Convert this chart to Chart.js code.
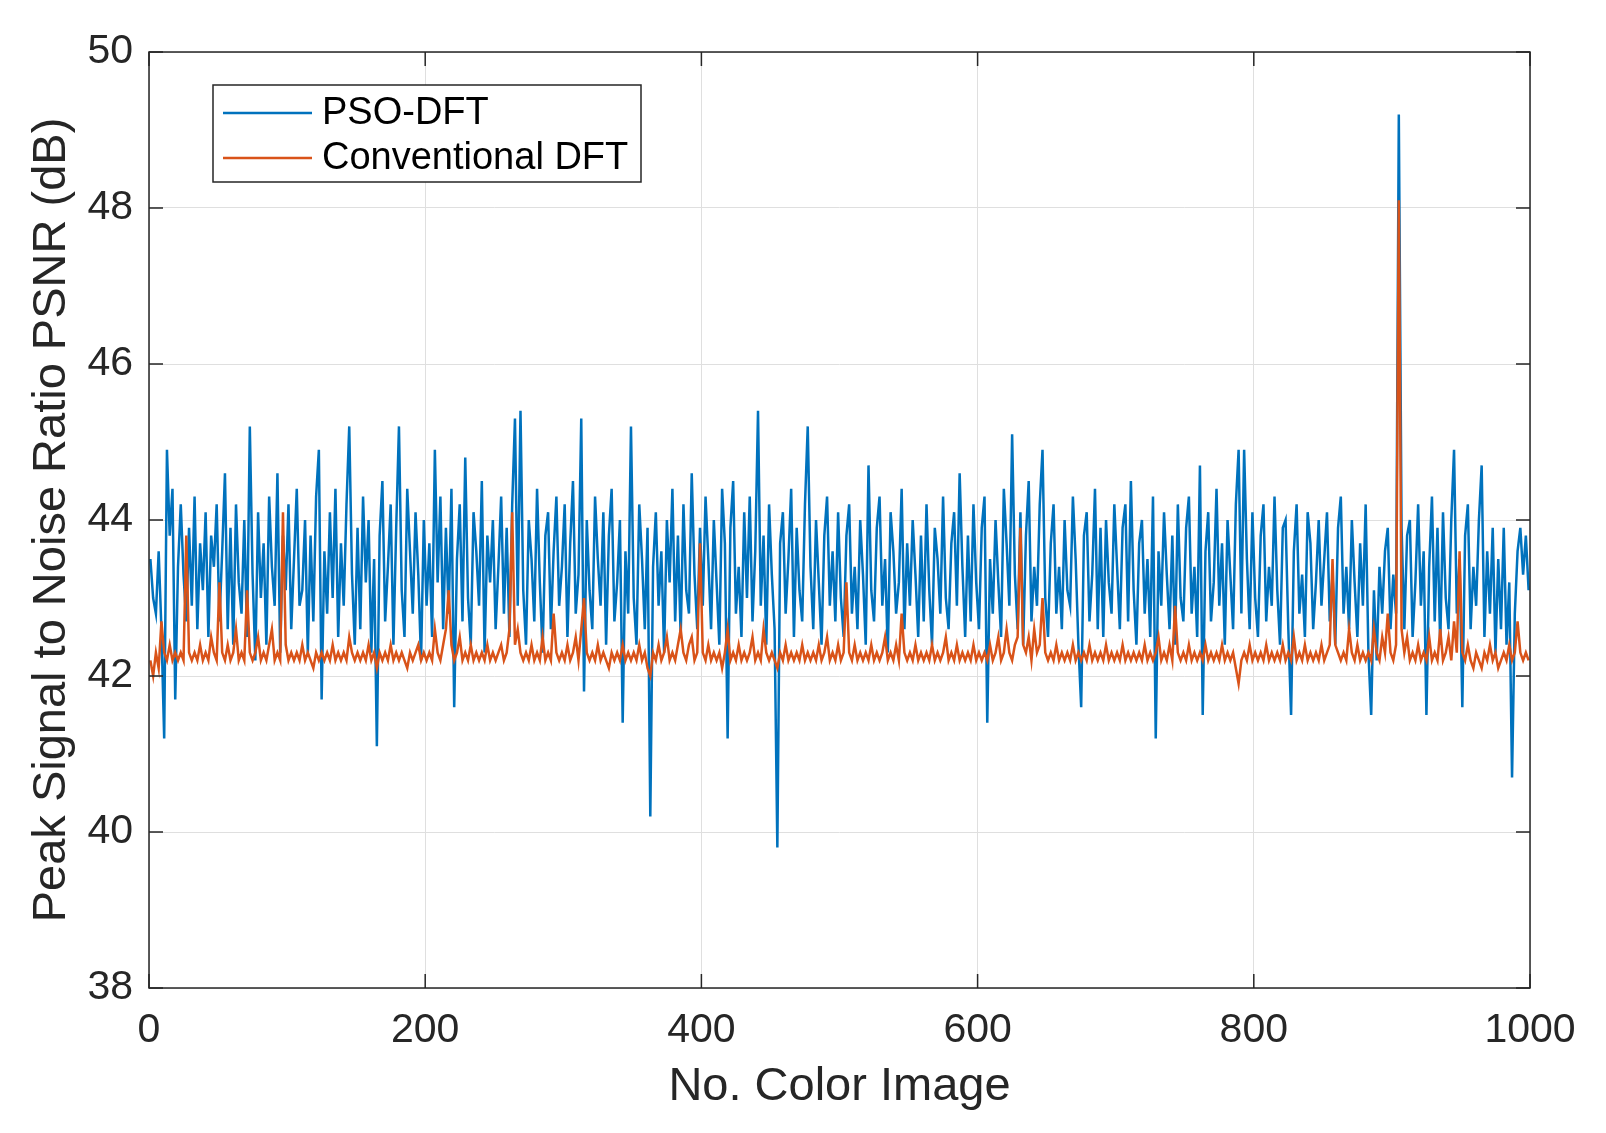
<!DOCTYPE html>
<html>
<head>
<meta charset="utf-8">
<script src="https://cdn.jsdelivr.net/npm/chart.js@4.4.1/dist/chart.umd.min.js"></script>
<style>
  html, body { margin: 0; padding: 0; background: #fff; }
  #wrap { width: 1606px; height: 1133px; }
</style>
</head>
<body>
<div id="wrap"><canvas id="psnrChart" width="1606" height="1133"></canvas></div>
<script>
// image numbers are sampled every 2 images, starting at image 1
const firstImage = 1;
const imageStep = 2;

const psoDft = [
  43.5, 43.0, 42.8, 43.6, 42.6, 41.2, 44.9, 43.8, 44.4, 41.7, 43.4, 44.2, 43.3, 42.7, 43.9, 42.9, 44.3, 42.6, 43.7, 43.1, 44.1, 42.5, 43.8, 43.4, 44.2,
  42.7, 43.6, 44.6, 42.6, 43.9, 42.4, 44.2, 43.2, 42.8, 44.0, 42.5, 45.2, 43.3, 42.2, 44.1, 43.0, 43.7, 42.4, 44.3, 43.4, 42.9, 44.6, 42.3, 43.8, 43.1,
  44.2, 42.6, 43.5, 44.4, 42.9, 43.1, 44.0, 42.3, 43.8, 42.7, 44.3, 44.9, 41.7, 43.6, 42.8, 44.1, 43.0, 44.4, 42.5, 43.7, 42.9, 44.2, 45.2, 43.3, 42.4,
  43.9, 42.6, 44.3, 43.2, 44.0, 42.3, 43.5, 41.1, 43.8, 44.5, 42.7, 43.4, 44.2, 42.4, 43.9, 45.2, 43.1, 42.5, 44.4, 43.6, 42.8, 44.1, 43.3, 42.2, 44.0,
  42.9, 43.7, 42.5, 44.9, 43.2, 44.3, 42.6, 43.9, 42.8, 44.4, 41.6, 43.5, 44.2, 42.7, 44.8, 43.0, 42.4, 44.1, 43.6, 42.9, 44.5, 42.3, 43.8, 43.2, 44.0,
  42.6, 43.4, 44.3, 42.8, 43.9, 42.5, 44.2, 45.3, 42.9, 45.4, 43.1, 42.4, 44.0, 43.5, 42.7, 44.4, 43.2, 42.3, 43.8, 44.1, 42.6, 43.6, 44.3, 42.9, 43.4,
  44.2, 42.5, 43.7, 44.5, 42.8, 43.3, 45.3, 41.8, 44.0, 43.1, 42.6, 44.3, 43.5, 42.9, 44.1, 42.4, 43.8, 44.4, 42.7, 43.2, 44.0, 41.4, 43.6, 42.8, 45.2,
  43.0, 42.4, 44.2, 43.5, 42.6, 43.9, 40.2, 43.4, 44.1, 42.9, 43.6, 42.3, 44.0, 43.2, 44.4, 42.7, 43.8, 42.5, 44.2, 43.1, 42.8, 44.6, 43.3, 42.6, 43.9,
  42.9, 44.3, 43.5, 42.6, 44.0, 43.2, 42.4, 44.4, 43.7, 41.2, 43.9, 44.5, 42.8, 43.4, 42.5, 44.1, 43.0, 44.3, 42.7, 43.6, 45.4, 42.9, 43.8, 42.4, 44.2,
  43.3, 42.6, 39.8, 43.7, 44.1, 42.8, 43.5, 44.4, 42.5, 43.9, 43.1, 42.7, 44.2, 45.2, 43.4, 42.6, 44.0, 43.2, 42.4, 43.8, 44.3, 42.9, 43.6, 42.7, 44.1,
  43.0, 42.5, 43.8, 44.2, 42.8, 43.4, 42.6, 44.0, 43.3, 42.4, 44.7, 43.1, 42.7, 43.9, 44.3, 42.9, 43.5, 42.3, 44.1, 43.6, 42.8, 43.2, 44.4, 42.6, 43.7,
  42.9, 44.0, 43.3, 42.5, 43.8, 42.7, 44.2, 43.1, 42.4, 43.9, 43.5, 42.8, 44.3, 43.0, 42.6, 43.7, 44.1, 42.9, 44.6, 43.4, 42.5, 43.8, 42.7, 44.2, 43.2,
  42.6, 43.9, 44.3, 41.4, 43.5, 42.8, 44.0, 43.2, 42.5, 44.4, 43.7, 42.9, 45.1, 43.3, 42.6, 44.1, 42.4, 43.8, 44.5, 42.7, 43.4, 42.9, 44.2, 44.9, 43.0,
  42.5, 43.7, 44.2, 42.8, 43.4, 42.6, 44.0, 43.1, 42.9, 44.3, 43.5, 42.4, 41.6, 43.8, 44.1, 42.7, 43.3, 44.4, 42.6, 43.9, 42.5, 44.0, 43.2, 42.8, 44.2,
  43.4, 42.6, 43.9, 44.2, 42.7, 44.5, 43.1, 42.4, 43.7, 44.0, 42.8, 43.5, 42.5, 44.3, 41.2, 43.6, 42.9, 44.1, 43.3, 42.6, 43.8, 42.4, 44.2, 43.0, 42.7,
  43.9, 44.3, 42.8, 43.4, 42.5, 44.7, 41.5, 43.6, 44.1, 42.7, 43.2, 44.4, 42.9, 43.7, 42.4, 44.0, 43.3, 42.6, 44.2, 44.9, 42.8, 44.9, 43.5, 42.6, 44.1,
  43.0, 42.5, 43.8, 44.2, 42.7, 43.4, 42.9, 44.3, 43.1, 42.4, 43.9, 44.0, 42.6, 41.5, 43.6, 44.2, 42.8, 43.3, 42.5, 44.1, 43.7, 42.6, 43.2, 44.0, 42.9,
  43.5, 44.1, 42.7, 43.3, 42.4, 43.9, 44.3, 42.8, 43.4, 42.6, 44.0, 43.2, 42.5, 43.7, 42.9, 44.2, 42.3, 41.5, 43.1, 42.2, 43.4, 42.8, 43.6, 43.9, 42.6,
  43.3, 42.8, 49.2, 43.9, 42.6, 43.8, 44.0, 42.5, 43.2, 44.2, 42.9, 43.6, 41.5, 43.4, 44.3, 42.7, 43.9, 42.4, 44.1, 43.0, 42.6, 44.0, 44.9, 42.8, 43.5,
  41.6, 43.8, 44.2, 42.6, 43.4, 42.9, 44.0, 44.7, 42.5, 43.6, 42.8, 43.9, 42.3, 43.5, 42.6, 43.9, 42.4, 43.2, 40.7, 42.8, 43.6, 43.9, 43.3, 43.8, 43.1
];

const conventionalDft = [
  42.2, 42.0, 42.3, 42.1, 42.7, 42.3, 42.2, 42.4, 42.2, 42.3, 42.2, 42.3, 42.2, 43.8, 42.3, 42.2, 42.3, 42.2, 42.4, 42.2, 42.3, 42.2, 42.5, 42.3, 42.2,
  43.2, 42.3, 42.2, 42.4, 42.2, 42.3, 42.6, 42.2, 42.3, 42.2, 43.1, 42.3, 42.2, 42.3, 42.5, 42.2, 42.3, 42.2, 42.4, 42.6, 42.2, 42.3, 42.2, 44.1, 42.4,
  42.2, 42.3, 42.2, 42.3, 42.2, 42.4, 42.2, 42.3, 42.2, 42.1, 42.3, 42.2, 42.3, 42.2, 42.3, 42.2, 42.4, 42.2, 42.3, 42.2, 42.3, 42.2, 42.5, 42.3, 42.2,
  42.3, 42.2, 42.3, 42.2, 42.4, 42.2, 42.3, 42.1, 42.3, 42.2, 42.3, 42.2, 42.4, 42.2, 42.3, 42.2, 42.3, 42.2, 42.1, 42.3, 42.2, 42.3, 42.4, 42.2, 42.3,
  42.2, 42.3, 42.2, 42.6, 42.3, 42.2, 42.4, 42.6, 43.1, 42.4, 42.2, 42.3, 42.5, 42.2, 42.3, 42.2, 42.4, 42.2, 42.3, 42.2, 42.3, 42.2, 42.4, 42.2, 42.3,
  42.2, 42.3, 42.4, 42.2, 42.3, 42.6, 44.1, 42.4, 42.6, 42.3, 42.2, 42.3, 42.2, 42.4, 42.2, 42.3, 42.2, 42.5, 42.2, 42.3, 42.2, 42.8, 42.3, 42.2, 42.3,
  42.2, 42.4, 42.2, 42.3, 42.5, 42.2, 42.6, 43.0, 42.3, 42.2, 42.3, 42.2, 42.4, 42.2, 42.3, 42.2, 42.1, 42.3, 42.2, 42.3, 42.2, 42.4, 42.2, 42.3, 42.2,
  42.3, 42.2, 42.4, 42.2, 42.3, 42.1, 42.0, 42.3, 42.2, 42.4, 42.2, 42.3, 42.5, 42.2, 42.3, 42.2, 42.4, 42.6, 42.3, 42.2, 42.4, 42.5, 42.2, 42.3, 43.7,
  42.3, 42.2, 42.4, 42.2, 42.3, 42.2, 42.3, 42.1, 42.3, 42.6, 42.2, 42.3, 42.2, 42.4, 42.2, 42.3, 42.2, 42.3, 42.5, 42.2, 42.3, 42.2, 42.6, 42.3, 42.2,
  42.3, 42.2, 42.1, 42.3, 42.2, 42.4, 42.2, 42.3, 42.2, 42.3, 42.2, 42.4, 42.2, 42.3, 42.2, 42.3, 42.2, 42.4, 42.2, 42.3, 42.5, 42.2, 42.3, 42.2, 42.4,
  42.2, 42.3, 43.2, 42.3, 42.2, 42.4, 42.2, 42.3, 42.2, 42.3, 42.2, 42.4, 42.2, 42.3, 42.2, 42.3, 42.5, 42.2, 42.3, 42.2, 42.4, 42.2, 42.8, 42.3, 42.2,
  42.3, 42.2, 42.4, 42.2, 42.3, 42.2, 42.3, 42.2, 42.4, 42.2, 42.3, 42.2, 42.3, 42.5, 42.2, 42.3, 42.2, 42.4, 42.2, 42.3, 42.2, 42.3, 42.2, 42.4, 42.2,
  42.3, 42.2, 42.3, 42.2, 42.4, 42.2, 42.3, 42.5, 42.2, 42.3, 42.6, 42.3, 42.2, 42.4, 42.5, 43.9, 42.4, 42.3, 42.5, 42.2, 42.6, 42.3, 42.4, 43.0, 42.3,
  42.2, 42.3, 42.2, 42.4, 42.2, 42.3, 42.2, 42.3, 42.2, 42.4, 42.2, 42.3, 42.2, 42.3, 42.2, 42.4, 42.2, 42.3, 42.2, 42.3, 42.2, 42.4, 42.2, 42.3, 42.2,
  42.3, 42.2, 42.4, 42.2, 42.3, 42.2, 42.3, 42.2, 42.3, 42.2, 42.4, 42.2, 42.3, 42.2, 42.3, 42.5, 42.2, 42.3, 42.2, 42.4, 42.2, 42.9, 42.3, 42.2, 42.3,
  42.2, 42.4, 42.2, 42.3, 42.2, 42.3, 42.2, 42.4, 42.2, 42.3, 42.2, 42.3, 42.2, 42.4, 42.2, 42.3, 42.2, 42.3, 42.1, 41.9, 42.2, 42.3, 42.2, 42.4, 42.2,
  42.3, 42.2, 42.3, 42.2, 42.4, 42.2, 42.3, 42.2, 42.3, 42.2, 42.4, 42.2, 42.3, 42.2, 42.5, 42.2, 42.3, 42.2, 42.4, 42.2, 42.3, 42.2, 42.3, 42.2, 42.4,
  42.2, 42.3, 42.4, 43.5, 42.4, 42.3, 42.2, 42.3, 42.2, 42.6, 42.3, 42.2, 42.4, 42.2, 42.3, 42.2, 42.3, 42.2, 42.6, 42.3, 42.2, 42.5, 42.3, 42.8, 42.3,
  42.2, 42.4, 48.1, 42.6, 42.3, 42.5, 42.2, 42.3, 42.2, 42.4, 42.2, 42.3, 42.2, 42.5, 42.2, 42.3, 42.2, 42.6, 42.2, 42.3, 42.5, 42.2, 42.7, 42.3, 43.6,
  42.3, 42.2, 42.4, 42.2, 42.1, 42.3, 42.2, 42.1, 42.3, 42.2, 42.4, 42.2, 42.3, 42.1, 42.2, 42.3, 42.2, 42.4, 42.2, 42.3, 42.7, 42.3, 42.2, 42.3, 42.2
];

const seriesNames = ["PSO-DFT", "Conventional DFT"];
const seriesColors = ["#0072BD", "#D95319"];
const xTicks = [0, 200, 400, 600, 800, 1000];
const yTicks = [38, 40, 42, 44, 46, 48, 50];

const axisColor = "#262626";
const fontFamily = "'Liberation Sans', Arial, Helvetica, sans-serif";

function toPoints(values) {
  return values.map((v, i) => ({ x: firstImage + i * imageStep, y: v }));
}

// MATLAB style box with inward ticks, plus the legend inside the axes
const matlabAxes = {
  id: "matlabAxes",
  afterDatasetsDraw(chart) {
    const { ctx, chartArea: a, scales } = chart;
    const tickLen = 14;
    ctx.save();
    ctx.strokeStyle = axisColor;
    ctx.lineWidth = 1.5;
    ctx.strokeRect(a.left, a.top, a.right - a.left, a.bottom - a.top);
    ctx.beginPath();
    xTicks.forEach(t => {
      const px = scales.x.getPixelForValue(t);
      ctx.moveTo(px, a.bottom); ctx.lineTo(px, a.bottom - tickLen);
      ctx.moveTo(px, a.top); ctx.lineTo(px, a.top + tickLen);
    });
    yTicks.forEach(t => {
      const py = scales.y.getPixelForValue(t);
      ctx.moveTo(a.left, py); ctx.lineTo(a.left + tickLen, py);
      ctx.moveTo(a.right, py); ctx.lineTo(a.right - tickLen, py);
    });
    ctx.stroke();

    // legend
    const box = { x: 213, y: 85, w: 428, h: 97 };
    ctx.fillStyle = "#fff";
    ctx.fillRect(box.x, box.y, box.w, box.h);
    ctx.lineWidth = 1.5;
    ctx.strokeStyle = axisColor;
    ctx.strokeRect(box.x, box.y, box.w, box.h);
    ctx.font = "38px " + fontFamily;
    ctx.textBaseline = "middle";
    chart.data.datasets.forEach((ds, i) => {
      const rowY = box.y + 28 + i * 45;
      ctx.strokeStyle = ds.borderColor;
      ctx.lineWidth = 2.5;
      ctx.beginPath();
      ctx.moveTo(box.x + 10, rowY);
      ctx.lineTo(box.x + 99, rowY);
      ctx.stroke();
      ctx.fillStyle = "#000";
      ctx.fillText(ds.label, box.x + 109, rowY + 1);
    });
    ctx.restore();
  }
};

const ctx = document.getElementById("psnrChart").getContext("2d");
const psnrChart = new Chart(ctx, {
  type: "line",
  data: {
    datasets: [
      {
        label: seriesNames[0],
        data: toPoints(psoDft),
        borderColor: seriesColors[0],
        borderWidth: 2.5,
        pointRadius: 0,
        tension: 0,
        fill: false,
        order: 1
      },
      {
        label: seriesNames[1],
        data: toPoints(conventionalDft),
        borderColor: seriesColors[1],
        borderWidth: 2.5,
        pointRadius: 0,
        tension: 0,
        fill: false,
        order: 0
      }
    ]
  },
  options: {
    responsive: false,
    animation: false,
    devicePixelRatio: 1,
    layout: { padding: { left: 0, top: 52, right: 76, bottom: 0 } },
    plugins: {
      legend: { display: false },
      tooltip: { enabled: false }
    },
    scales: {
      x: {
        type: "linear",
        min: 0,
        max: 1000,
        afterFit: s => { s.height = 145; },
        afterBuildTicks: s => { s.ticks = xTicks.map(v => ({ value: v })); },
        grid: { color: "#dfdfdf", lineWidth: 1, drawTicks: false },
        border: { display: false },
        ticks: {
          color: axisColor,
          font: { family: fontFamily, size: 41 },
          padding: 18,
          maxRotation: 0,
          callback: v => String(v)
        },
        title: {
          display: true,
          text: "No. Color Image",
          color: axisColor,
          font: { family: fontFamily, size: 47 },
          padding: { top: 0, bottom: 18 }
        }
      },
      y: {
        min: 38,
        max: 50,
        afterFit: s => { s.width = 149; },
        afterBuildTicks: s => { s.ticks = yTicks.map(v => ({ value: v })); },
        grid: { color: "#dfdfdf", lineWidth: 1, drawTicks: false },
        border: { display: false },
        ticks: {
          color: axisColor,
          font: { family: fontFamily, size: 41 },
          padding: 16,
          callback: v => String(v)
        },
        title: {
          display: true,
          text: "Peak Signal to Noise Ratio PSNR (dB)",
          color: axisColor,
          font: { family: fontFamily, size: 47 },
          padding: { top: 24, bottom: 0 }
        }
      }
    }
  },
  plugins: [matlabAxes]
});
</script>
</body>
</html>
